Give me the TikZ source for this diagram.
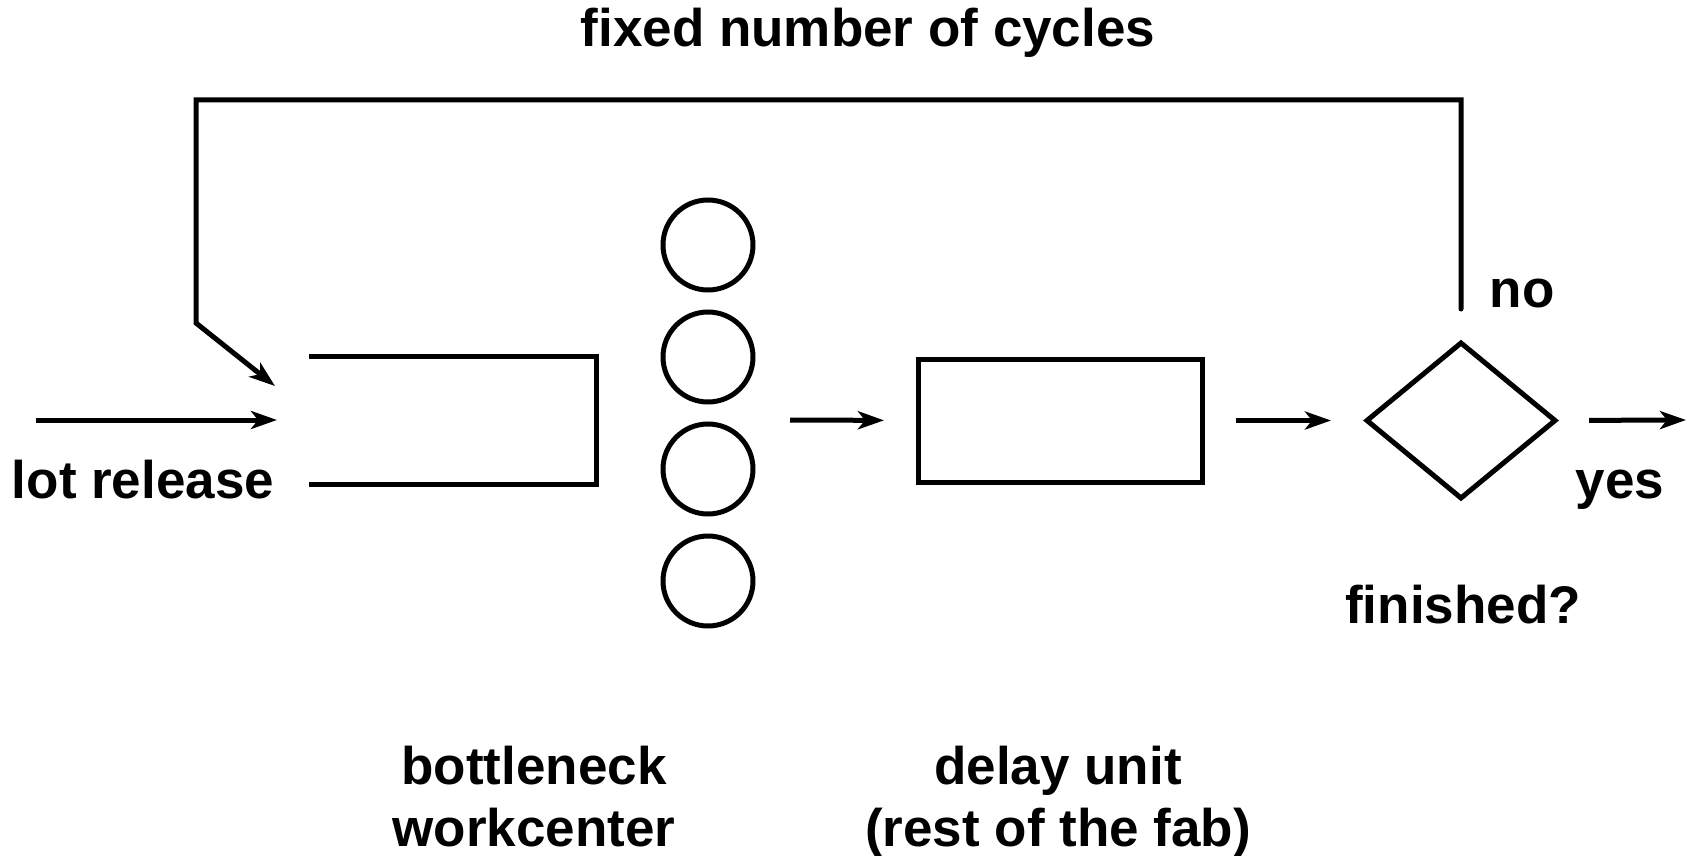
\documentclass[tikz,border=0pt]{standalone}
\usepackage{fontspec}
\setmainfont{Liberation Sans}
\usetikzlibrary{arrows.meta,shapes.geometric}
\begin{document}
\begin{tikzpicture}[x=1pt,y=-1pt,
  line width=5pt,
  arr/.style={-{Stealth[length=26pt,width=18pt,inset=7pt]}},
  lbl/.style={font=\fontsize{53}{62}\selectfont\bfseries,inner sep=0pt,anchor=base},
  ring/.style={circle,draw,minimum size=90pt,inner sep=0pt},
  box/.style={rectangle,draw,minimum width=284pt,minimum height=123pt,inner sep=0pt,outer sep=0pt},
  decision/.style={diamond,draw,minimum width=188pt,minimum height=155pt,inner sep=0pt,outer sep=0pt}]
\useasboundingbox (0,0) rectangle (1690,856);

% texts
\node[lbl] (title) at (868,47) {fixed number of cycles};
\node[lbl] (release) at (143,498) {lot release};
\node[lbl] (no) at (1522,307) {no};
\node[lbl] (yes) at (1620,498) {yes};
\node[lbl] (fin) at (1463,623) {finished?};
\node[lbl] (bn1) at (534,784) {bottleneck};
\node[lbl] (bn2) at (534,846) {workcenter};
\node[lbl] (du1) at (1058,784) {delay unit};
\node[lbl] (du2) at (1058,846) {(rest of the fab)};

% queue of the bottleneck workcenter
\coordinate (qtl) at (309,356);
\coordinate (qtr) at (596,356);
\coordinate (qbr) at (596,484);
\coordinate (qbl) at (309,484);
\draw (qtl) -- (qtr) -- (qbr) -- (qbl);

% machines
\node[ring] (m1) at (708,245) {};
\node[ring] (m2) at (708,357) {};
\node[ring] (m3) at (708,469) {};
\node[ring] (m4) at (708,581) {};

% delay unit and decision
\node[box] (delay) at (1060,420.5) {};
\node[decision] (dec) at (1461,420.5) {};

% flow
\coordinate (start) at (36,420);
\coordinate (qin) at (277,420);
\coordinate (qfb) at (275,386);
\coordinate (mout) at (790,420);
\coordinate (exit) at (1686,420);

\draw[arr] (start) -- (qin);
\draw[arr,shorten >=34pt] (mout) -- (delay.west);
\draw[arr,shorten <=34pt,shorten >=36pt] (delay.east) -- (dec.west);
\draw[arr,shorten <=34pt] (dec.east) -- (exit);

% feedback loop
\draw[arr,line cap=round] ([yshift=34pt]dec.north) -- (1461,100) -- (196,100) -- (196,323) -- (qfb);
\end{tikzpicture}
\end{document}
